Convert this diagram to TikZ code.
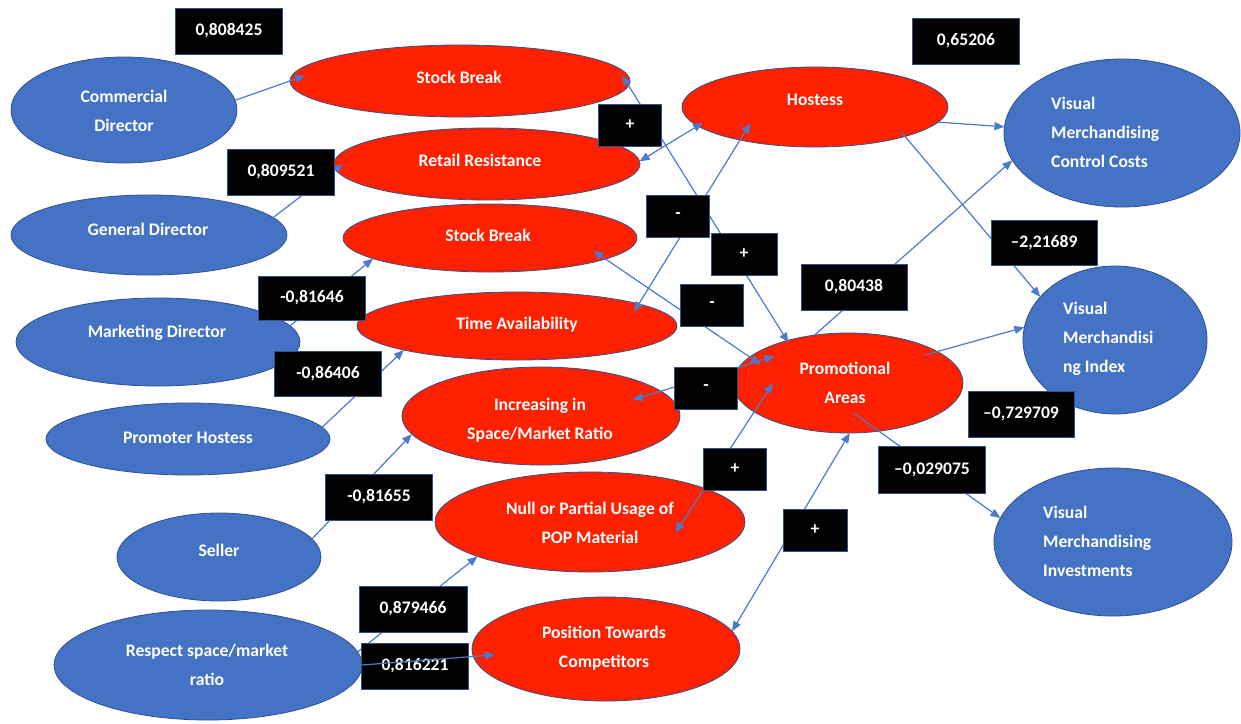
\documentclass[tikz,border=0pt]{standalone}
\usepackage{fontspec}
\setmainfont{Carlito}
\usetikzlibrary{shapes.geometric,arrows.meta,calc}

\definecolor{ofblue}{RGB}{68,114,196}
\definecolor{ofred}{RGB}{255,32,0}
\definecolor{edgeblue}{RGB}{47,82,143}
\definecolor{lineblue}{RGB}{76,122,204}
\newcommand\lblfont{\fontsize{17.6}{29}\selectfont\bfseries}

\begin{document}
\begin{tikzpicture}[x=1pt,y=-1pt,
  ell/.style={ellipse, draw=edgeblue, line width=0.8pt, inner sep=0pt, outer sep=0pt},
  blueell/.style={ell, fill=ofblue},
  redell/.style={ell, fill=ofred},
  txt/.style={text=white, font=\lblfont, align=center, inner sep=0pt},
  ltxt/.style={txt, align=left, anchor=west},
  numbox/.style={fill=black, draw=edgeblue, line width=0.8pt, text=white, font=\lblfont,
                 minimum width=107pt, minimum height=46pt, inner sep=0pt},
  signbox/.style={numbox, minimum width=63pt, minimum height=42pt},
  conn/.style={draw=lineblue, line width=1.2pt, -{Triangle[length=10pt,width=8pt]}},
  bothconn/.style={conn, {Triangle[length=10pt,width=8pt]}-{Triangle[length=10pt,width=8pt]}},
]
\fill[white] (0,0) rectangle (1241,723);
\useasboundingbox (0,0) rectangle (1241,723);

% ---- actors (blue, left)
\node[blueell, minimum width=226pt, minimum height=106pt] (cd)   at (124,110) {};
\node[blueell, minimum width=276pt, minimum height=80pt]  (gd)   at (149,235) {};
\node[blueell, minimum width=284pt, minimum height=88pt]  (md)   at (158,342) {};
\node[blueell, minimum width=284pt, minimum height=72pt]  (ph)   at (188,439) {};
\node[blueell, minimum width=204pt, minimum height=88pt]  (sel)  at (219,557) {};
\node[blueell, minimum width=308pt, minimum height=110pt] (resp) at (208,665) {};

% ---- outcomes (blue, right)
\node[blueell, minimum width=236pt, minimum height=148pt] (vmcc)  at (1122,133) {};
\node[blueell, minimum width=184pt, minimum height=148pt] (vmi)   at (1115,340) {};
\node[blueell, minimum width=238pt, minimum height=148pt] (vminv) at (1113,542) {};

% ---- factors (red)
\node[redell, minimum width=340pt, minimum height=72pt]  (sb1)  at (460,81)  {};
\node[redell, minimum width=306pt, minimum height=72pt]  (rr)   at (487,164) {};
\node[redell, minimum width=294pt, minimum height=68pt]  (sb2)  at (490,238) {};
\node[redell, minimum width=320pt, minimum height=68pt]  (ta)   at (517,326) {};
\node[redell, minimum width=278pt, minimum height=98pt]  (inc)  at (541,416) {};
\node[redell, minimum width=310pt, minimum height=100pt] (null) at (590,522) {};
\node[redell, minimum width=268pt, minimum height=104pt] (pos)  at (606,649) {};
\node[redell, minimum width=266pt, minimum height=80pt]  (hos)  at (815,107) {};
\node[redell, minimum width=230pt, minimum height=100pt] (prom) at (848,383) {};

% ---- texts
\node[txt] (cd-t)   at (124,111) {Commercial\\Director};
\node[txt] (gd-t)   at (148,229) {General Director};
\node[txt] (md-t)   at (157,333) {Marketing Director};
\node[txt] (ph-t)   at (188,438) {Promoter Hostess};
\node[txt] (sel-t)  at (219,550) {Seller};
\node[txt] (resp-t) at (207,665) {Respect space/market\\ratio};
\node[ltxt] (vmcc-t)  at (1051,132) {Visual\\Merchandising\\Control Costs};
\node[ltxt] (vmi-t)   at (1063,339) {Visual\\Merchandisi\\ng Index};
\node[ltxt] (vminv-t) at (1043,541) {Visual\\Merchandising\\Investments};
\node[txt] (sb1-t)  at (459,77)  {Stock Break};
\node[txt] (rr-t)   at (480,160) {Retail Resistance};
\node[txt] (sb2-t)  at (488,235) {Stock Break};
\node[txt] (ta-t)   at (517,325) {Time Availability};
\node[txt] (inc-t)  at (540,420) {Increasing in\\Space/Market Ratio};
\node[txt] (null-t) at (590,523) {Null or Partial Usage of\\POP Material};
\node[txt] (pos-t)  at (604,648) {Position Towards\\Competitors};
\node[txt] (hos-t)  at (815,100) {Hostess};
\node[txt] (prom-t) at (845,383) {Promotional\\Areas};

% ---- connectors
\draw[conn] (cd.5) -- ($(sb1.center)!0.922!(sb1.178)$);
\draw[conn] (gd.8) -- ($(rr.center)!0.941!(rr.180)$);
\draw[conn] (md.7) -- (sb2.190);
\draw[conn] (ph.5) -- (ta.192);
\draw[conn] (sel.11) -- (inc.188);
\draw[conn] (resp.5) -- (null.197);

\draw[bothconn] ($(sb1.center)!0.967!(sb1.2)$) -- ($(prom.center)!0.955!(prom.146)$);
\draw[bothconn] ($(hos.center)!0.63!(hos.194)$) -- ($(ta.center)!0.845!(ta.7)$);
\draw[bothconn] ($(hos.center)!0.93!(hos.188)$) -- (rr.1);
\draw[bothconn] ($(sb2.center)!0.795!(sb2.-7)$) -- ($(prom.center)!0.846!(prom.168)$);
\draw[bothconn] ($(inc.center)!0.739!(inc.10)$) -- ($(prom.center)!0.833!(prom.160)$);
\draw[bothconn] ($(null.center)!0.59!(null.-7)$) -- ($(prom.center)!0.652!(prom.180)$);
\draw[bothconn] (pos.8) -- (prom.-88);

\draw[conn] (hos.-7) -- (vmcc.177);
\draw[conn] ($(hos.center)!0.894!(hos.-16)$) -- (vmi.150);
\draw[conn] (prom.125) -- (vmcc.194);
\draw[conn] ($(prom.center)!0.873!(prom.20)$) -- (vmi.172);
\draw[conn] ($(prom.center)!0.6!(prom.-80)$) -- (vminv.168);

% ---- coefficient boxes
\node[numbox] (k1)  at (229,31)  {0,808425};
\node[numbox] (k2)  at (281,172) {0,809521};
\node[numbox] (k3)  at (966,41)  {0,65206};
\node[signbox] (s1) at (630,125) {+};
\node[signbox] (s2) at (678,216) {-};
\node[signbox, minimum width=66pt] (s3) at (744,254) {+};
\node[signbox] (s4) at (712,305) {-};
\node[numbox, minimum width=106pt] (k4) at (854,287) {0,80438};
\node[numbox, minimum width=106pt, minimum height=45pt] (k5) at (1044,243) {–2,21689};
\node[numbox, minimum height=44pt] (k6) at (312,298) {-0,81646};
\node[numbox, minimum height=45pt] (k7) at (328,374) {-0,86406};
\node[signbox] (s5) at (706,388) {-};
\node[numbox, minimum width=106pt] (k8) at (1021,414) {–0,729709};
\node[signbox] (s6) at (735,469) {+};
\node[numbox, minimum height=47pt] (k9) at (932,470) {–0,029075};
\node[numbox] (k10) at (379,497) {-0,81655};
\node[signbox, minimum width=64pt] (s7) at (815,530) {+};
\node[numbox, minimum width=108pt] (k11) at (413,609) {0,879466};
\node[numbox] (k12) at (415,666) {0,816221};

% this connector runs over its coefficient box
\draw[conn] (resp.0) -- ($(pos.center)!0.836!(pos.183)$);
\end{tikzpicture}
\end{document}
